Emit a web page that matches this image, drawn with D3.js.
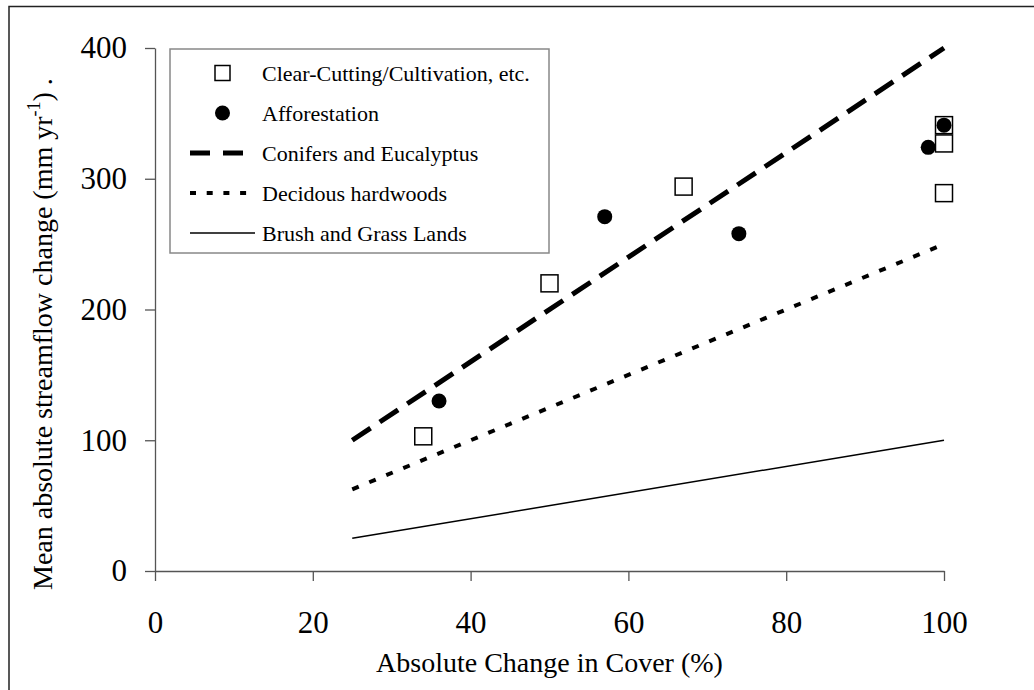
<!DOCTYPE html>
<html>
<head>
<meta charset="utf-8">
<script src="https://cdn.jsdelivr.net/npm/d3@7"></script>
<style>
  body { margin: 0; background: #fff; }
  svg text { font-family: "Liberation Serif", "Times New Roman", serif !important; fill: #000; }
</style>
</head>
<body>
<svg class="chart" width="1034" height="690"></svg>
<script>
const clearX = [34, 50, 67, 100, 100, 100],
      clearY = [103, 220, 294, 341, 327, 289],
      afforX = [36, 57, 74, 98, 100],
      afforY = [130, 271, 258, 324, 341],
      lineX = [25, 100],
      coniferY = [100, 400],
      decidY = [62.5, 250],
      brushY = [25, 100],
      xTicks = [0, 20, 40, 60, 80, 100],
      yTicks = [0, 100, 200, 300, 400],
      legendLabels = ["Clear-Cutting/Cultivation, etc.", "Afforestation", "Conifers and Eucalyptus", "Decidous hardwoods", "Brush and Grass Lands"]

const serif = "'Liberation Serif', 'Times New Roman', serif"

var chart = d3.select(".chart")

// frame (left + top only, as in the scan)
chart.append("path")
  .attr("d", "M9,690V6.5H1034")
  .attr("fill", "none")
  .attr("stroke", "#222")
  .attr("stroke-width", 1.5)

var x = d3.scaleLinear().domain([0, 100]).range([155, 944]),
    y = d3.scaleLinear().domain([0, 400]).range([571, 48])

chart.append("g")
  .attr("transform", "translate(0," + y(0) + ")")
  .call(d3.axisBottom(x).tickValues(xTicks).tickSize(10).tickSizeOuter(0).tickPadding(30))

chart.append("g")
  .attr("transform", "translate(" + x(0) + ",0)")
  .call(d3.axisLeft(y).tickValues(yTicks).tickSize(10).tickSizeOuter(0).tickPadding(18))

chart.selectAll(".domain, .tick line").attr("stroke", "#555").attr("stroke-width", 1.3)
chart.selectAll(".tick text")
  .style("font-family", serif)
  .style("font-size", "31px")
  .attr("fill", "#000")

chart.append("text")
  .attr("x", (x(0) + x(100)) / 2)
  .attr("y", 672)
  .attr("text-anchor", "middle")
  .style("font-family", serif)
  .style("font-size", "28px")
  .text("Absolute Change in Cover (%)")

var ylab = chart.append("text")
  .attr("transform", "translate(52,590) rotate(-90)")
  .style("font-family", serif)
  .style("font-size", "28px")
ylab.append("tspan").text("Mean absolute streamflow change (mm yr")
ylab.append("tspan").attr("dy", -12).style("font-size", "18px").text("-1")
ylab.append("tspan").attr("dy", 12).text(")  .")

// fitted lines
var lines = [
  { ys: coniferY, width: 5, dash: "22,11" },
  { ys: decidY, width: 4, dash: "7,11.4" },
  { ys: brushY, width: 1.5, dash: null }
]

var line = d3.line()
  .x(function(d) { return x(d[0]) })
  .y(function(d) { return y(d[1]) })

lines.forEach(function(l) {
  chart.append("path")
    .datum(lineX.map(function(v, i) { return [v, l.ys[i]] }))
    .attr("d", line)
    .attr("fill", "none")
    .attr("stroke", "#000")
    .attr("stroke-width", l.width)
    .attr("stroke-dasharray", l.dash)
})

chart.append("g").selectAll("rect")
  .data(clearX)
  .join("rect")
    .attr("x", function(d) { return x(d) - 8.5 })
    .attr("y", function(d, i) { return y(clearY[i]) - 8.5 })
    .attr("width", 17)
    .attr("height", 17)
    .attr("fill", "#fff")
    .attr("stroke", "#000")
    .attr("stroke-width", 1.5)

chart.append("g").selectAll("circle")
  .data(afforX)
  .join("circle")
    .attr("cx", function(d) { return x(d) })
    .attr("cy", function(d, i) { return y(afforY[i]) })
    .attr("r", 7.5)
    .attr("fill", "#000")

// legend
var lg = chart.append("g")

lg.append("rect")
  .attr("x", 170).attr("y", 49)
  .attr("width", 379).attr("height", 204)
  .attr("fill", "#fff")
  .attr("stroke", "#888")
  .attr("stroke-width", 1.5)

var rowY = function(i) { return 73 + i * 40 }

lg.append("rect")
  .attr("x", 215).attr("y", rowY(0) - 7.5)
  .attr("width", 15).attr("height", 15)
  .attr("fill", "#fff").attr("stroke", "#000").attr("stroke-width", 1.5)

lg.append("circle")
  .attr("cx", 222.5).attr("cy", rowY(1)).attr("r", 7.5)
  .attr("fill", "#000")

lines.forEach(function(l, i) {
  lg.append("line")
    .attr("x1", 190).attr("x2", 255)
    .attr("y1", rowY(i + 2)).attr("y2", rowY(i + 2))
    .attr("stroke", "#000")
    .attr("stroke-width", l.width)
    .attr("stroke-dasharray", i == 0 ? "20,13" : i == 1 ? "6,10.7" : null)
})

lg.selectAll("text.lab")
  .data(legendLabels)
  .join("text")
    .attr("class", "lab")
    .attr("x", 262)
    .attr("y", function(d, i) { return rowY(i) })
    .attr("dy", "0.35em")
    .style("font-family", serif)
    .style("font-size", "22px")
    .text(function(d) { return d })
</script>
</body>
</html>
